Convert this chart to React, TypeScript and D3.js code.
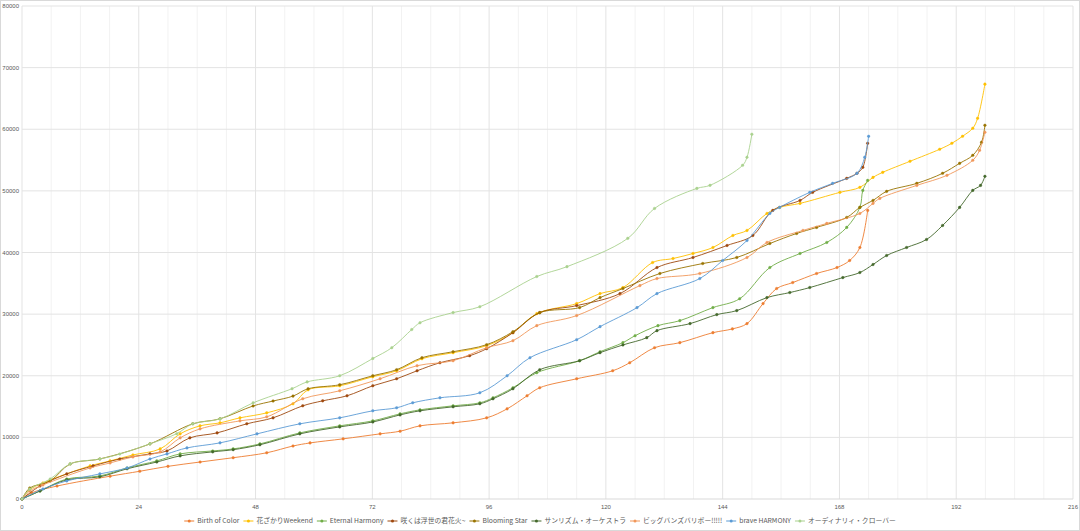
import { useRef, useEffect } from "react";
import * as d3 from "d3";

type Pt = [number, number];

// hours since start, points
const seriesNames: string[] = [
    "Birth of Color",
    "花ざかりWeekend",
    "Eternal Harmony",
    "咲くは浮世の君花火~",
    "Blooming Star",
    "サンリズム・オーケストラ",
    "ビッグバンズバリボー!!!!!",
    "brave HARMONY",
    "オーディナリィ・クローバー"
];

const birthOfColor: Pt[] = [
    [0, 0], [2, 1000], [7.2, 2100], [18.1, 3700], [24.2, 4500], [30, 5300], [36.6, 6000], [43.4, 6700],
    [50.3, 7500], [55.7, 8600], [59.2, 9100], [66, 9760], [73.6, 10570], [77.7, 11000],
    [81.8, 11870], [88.6, 12360], [95.5, 13170], [99.7, 14630], [103.8, 16750], [106.4, 18050],
    [114, 19510], [121.4, 20810], [124.9, 22110], [130, 24550], [135.2, 25370], [142, 26990],
    [146, 27600], [149, 28460], [152.3, 31710], [155.1, 34150], [158.4, 35120], [163.3, 36590],
    [167.5, 37560], [170.1, 38700], [172.2, 40810], [173.8, 46830]
];

const hanazakariWeekend: Pt[] = [
    [0, 0], [1.6, 1500], [4.3, 2600], [14, 5370], [18.1, 6180], [22.8, 7150], [28.4, 8130], [32.5, 10570],
    [36.6, 11870], [40.7, 12360], [44.8, 13170], [50.3, 13980], [55.7, 15450], [58.8, 17720],
    [65.3, 18370], [72.1, 19840], [77, 20810], [82.2, 22760], [88.6, 23740], [95.5, 24880],
    [100.9, 26990], [105.8, 30080], [114, 31710], [118.8, 33330], [123.5, 34310], [129.6, 38370],
    [133.8, 39020], [137.9, 39840], [142, 40810], [146.1, 42760], [149, 43580], [153.1, 46340],
    [155.7, 47320], [159.9, 47970], [168.1, 49760], [172.2, 50570], [174.9, 52190], [176.9, 53010],
    [182.5, 54800], [188.6, 56750], [191.1, 57720], [193.3, 58860], [195.4, 60160], [196.4, 61790],
    [197.9, 67320]
];

const eternalHarmony: Pt[] = [
    [0, 0], [3.7, 1300], [9.2, 3250], [16, 3740], [21.6, 5040], [27.7, 6180], [32.5, 7320], [39.2, 7800],
    [43.4, 8130], [48.9, 8940], [57.1, 10730], [65.3, 11870], [72.1, 12680], [77.7, 13820],
    [81.8, 14470], [88.6, 15120], [94.1, 15610], [96.8, 16420], [100.9, 18050], [105.8, 20490],
    [114.6, 22440], [118.8, 23900], [123.5, 25370], [126, 26500], [130.7, 28130], [135.2, 28940],
    [142, 31060], [147.5, 32500], [153.7, 37560], [159.9, 39840], [165.4, 41630], [169.5, 44070],
    [172.2, 47320], [172.8, 50080], [173.8, 51700]
];

const sakuwaUkiyo: Pt[] = [
    [0, 0], [3.7, 2110], [9.2, 4070], [14.6, 5370], [20.1, 6500], [26.3, 7320], [29.8, 7800], [34.5, 9920],
    [40.1, 10730], [46.2, 12200], [51.6, 13170], [57.7, 15120], [61.8, 15930], [66.8, 16750],
    [72.1, 18370], [77, 19510], [81.2, 20810], [85.9, 22110], [92, 23250], [95.5, 24390],
    [100.9, 26990], [106.4, 30240], [114, 31380], [122.9, 33330], [130.5, 37560], [137.9, 39190],
    [144.9, 41140], [150.2, 42760], [154.3, 46830], [159.9, 48450], [162.5, 49760], [169.5, 52030],
    [171.6, 52850], [172.8, 53820], [173.8, 57720]
];

const bloomingStar: Pt[] = [
    [0, 0], [1.6, 1790], [5.8, 2930], [9.9, 5690], [16, 6500], [26.3, 8940], [35.1, 12200], [40.7, 13010],
    [47.5, 15100], [51.6, 15900], [55.7, 16700], [58.8, 17890], [65.3, 18540], [72.1, 20000],
    [77, 20980], [82.2, 22930], [88.6, 23900], [95.5, 25040], [100.9, 27150], [106.4, 30240],
    [114.6, 31060], [118.8, 32680], [123.5, 34150], [131.1, 36590], [139.9, 38210], [146.9, 39190],
    [153.7, 41460], [159.2, 43090], [163.3, 44070], [169.5, 45690], [172.2, 47320], [174.9, 48450],
    [177.7, 49920], [183.9, 51220], [189.2, 52850], [192.7, 54470], [195.4, 55770], [197.2, 57890],
    [197.9, 60650]
];

const sunrhythmOrchestra: Pt[] = [
    [0, 0], [3.7, 1300], [9.2, 3100], [16, 3600], [21.6, 4900], [27.7, 6000], [32.5, 7000], [39.2, 7650],
    [43.4, 8000], [48.9, 8800], [57.1, 10570], [65.3, 11700], [72.1, 12500], [77.7, 13650],
    [81.8, 14310], [88.6, 14960], [94.1, 15450], [96.8, 16260], [100.9, 17890], [106.4, 20980],
    [114.6, 22440], [118.8, 23750], [123.5, 25000], [128.4, 26180], [130.5, 27320], [137.3, 28460],
    [142.8, 29920], [146.9, 30570], [153.1, 32680], [157.8, 33500], [161.9, 34310], [168.7, 35930],
    [172.2, 36750], [174.9, 38050], [177.7, 39510], [181.8, 40810], [185.9, 42110], [189.2, 44390],
    [192.7, 47320], [195.4, 50080], [197, 50890], [197.9, 52360]
];

const bigBangs: Pt[] = [
    [0, 0], [1.6, 1300], [4.3, 2280], [14, 5040], [18.1, 5850], [22.8, 6830], [28.4, 7640], [32.5, 9920],
    [36.6, 11380], [44.8, 12680], [50.3, 13330], [57.7, 16260], [65.3, 17560], [73.6, 19510],
    [81.2, 21630], [88.6, 22440], [95.5, 24550], [100.9, 25690], [105.8, 28130], [114, 29760],
    [127, 34630], [130.5, 35770], [139.3, 36590], [149, 39190], [153.1, 41630], [160.5, 43580],
    [165.4, 44720], [172.2, 46340], [174.9, 47970], [176.3, 48780], [183.9, 50890], [190.1, 52520],
    [195.4, 54960], [196.8, 56580], [197.9, 59510]
];

const braveHarmony: Pt[] = [
    [0, 0], [4.3, 1630], [9.2, 2930], [16, 4070], [21.6, 5040], [26.3, 6500], [29.8, 7320], [33.9, 8290],
    [40.7, 9110], [48.3, 10570], [57.1, 12200], [65.3, 13170], [72.1, 14310], [77, 14800],
    [80.3, 15610], [85.9, 16420], [94.1, 17240], [99.7, 20000], [104.4, 22930], [114, 25850],
    [118.8, 27970], [126.4, 31060], [130.5, 33330], [139.3, 35770], [144, 38700], [149, 41950],
    [153.7, 46340], [155.7, 47320], [161.9, 49760], [166.6, 51220], [171.6, 52850], [173.2, 55450],
    [174, 58860]
];

const ordinaryClover: Pt[] = [
    [0, 0], [1.6, 1600], [5.8, 3250], [9.9, 5700], [16, 6500], [20.1, 7300], [26.3, 8950], [31.8, 10600],
    [35.1, 12200], [40.7, 13000], [47.5, 15600], [55.5, 17900], [58.6, 19000], [65.3, 20000],
    [72.1, 22800], [76, 24550], [80.1, 27500], [81.8, 28600], [88.6, 30250], [94.1, 31200],
    [105.8, 36100], [112, 37700], [124.5, 42300], [130, 47150], [138.7, 50400], [141.4, 50900],
    [148.1, 54150], [149, 55450], [150, 59200]
];

const allSeries: Pt[][] = [
    birthOfColor, hanazakariWeekend, eternalHarmony, sakuwaUkiyo, bloomingStar,
    sunrhythmOrchestra, bigBangs, braveHarmony, ordinaryClover
];

const xTicks = [0, 24, 48, 72, 96, 120, 144, 168, 192, 216];
const yTicks = [0, 10000, 20000, 30000, 40000, 50000, 60000, 70000, 80000];

const colors = [
    "#ED7D31", "#FFC000", "#70AD47", "#9E480E", "#997300",
    "#43682B", "#F1975A", "#5B9BD5", "#A9D18E"
];

const W = 1080;
const H = 531;
const margin = { left: 22, right: 7, top: 6, bottom: 32 };

export default function App() {
    const svgRef = useRef<SVGSVGElement>(null);

    useEffect(() => {
        const svg = d3.select<SVGSVGElement, unknown>(svgRef.current as SVGSVGElement);
        svg.selectAll("*").remove();

        svg.append("rect")
            .attr("x", 0.5).attr("y", 0.5)
            .attr("width", W - 1).attr("height", H - 1)
            .attr("fill", "#fff")
            .attr("stroke", "#d9d9d9");

        const xScale = d3.scaleLinear().domain([0, 216]).range([margin.left, W - margin.right]);
        const yScale = d3.scaleLinear().domain([0, 80000]).range([H - margin.bottom, margin.top]);

        // minor vertical grid every 6h
        const grid = svg.append("g");
        grid.selectAll("line.minor")
            .data(d3.range(0, 217, 6).filter(v => v % 24 !== 0))
            .join("line")
            .attr("class", "minor")
            .attr("x1", d => xScale(d)).attr("x2", d => xScale(d))
            .attr("y1", yScale(0)).attr("y2", yScale(80000))
            .attr("stroke", "#f2f2f2");

        grid.selectAll("line.vmajor")
            .data(xTicks.slice(1))
            .join("line")
            .attr("class", "vmajor")
            .attr("x1", d => xScale(d)).attr("x2", d => xScale(d))
            .attr("y1", yScale(0)).attr("y2", yScale(80000))
            .attr("stroke", "#e3e3e3");

        grid.selectAll("line.hmajor")
            .data(yTicks)
            .join("line")
            .attr("class", "hmajor")
            .attr("x1", xScale(0)).attr("x2", xScale(216))
            .attr("y1", d => yScale(d)).attr("y2", d => yScale(d))
            .attr("stroke", d => d === 0 ? "#d9d9d9" : "#e3e3e3");

        grid.append("line")
            .attr("x1", xScale(0)).attr("x2", xScale(0))
            .attr("y1", yScale(0)).attr("y2", yScale(80000))
            .attr("stroke", "#e3e3e3");

        // axis labels
        const tickFont = "'Liberation Sans', Arial, sans-serif";
        svg.append("g")
            .selectAll("text")
            .data(yTicks)
            .join("text")
            .attr("x", margin.left - 3)
            .attr("y", d => yScale(d) + 2)
            .attr("text-anchor", "end")
            .attr("font-family", tickFont)
            .attr("font-size", 6)
            .attr("fill", "#595959")
            .text(d => String(d));

        svg.append("g")
            .selectAll("text")
            .data(xTicks)
            .join("text")
            .attr("x", d => xScale(d))
            .attr("y", yScale(0) + 10)
            .attr("text-anchor", "middle")
            .attr("font-family", tickFont)
            .attr("font-size", 6)
            .attr("fill", "#595959")
            .text(d => String(d));

        // lines
        const line = d3.line<Pt>()
            .x(d => xScale(d[0]))
            .y(d => yScale(d[1]))
            .curve(d3.curveCatmullRom.alpha(0.5));

        const plot = svg.append("g");
        allSeries.forEach((data, i) => {
            const g = plot.append("g");
            g.append("path")
                .datum(data)
                .attr("d", line)
                .attr("fill", "none")
                .attr("stroke", colors[i])
                .attr("stroke-width", 0.9);
            g.selectAll("circle")
                .data(data)
                .join("circle")
                .attr("cx", d => xScale(d[0]))
                .attr("cy", d => yScale(d[1]))
                .attr("r", 1.3)
                .attr("fill", colors[i])
                .attr("stroke", colors[i])
                .attr("stroke-width", 0.4);
        });

        // legend
        const legend = svg.append("g");
        const legendFont = "'Noto Sans CJK JP', 'Noto Sans', sans-serif";
        const items: { g: d3.Selection<SVGGElement, unknown, null, undefined>, w: number }[] = [];
        seriesNames.forEach((name, i) => {
            const g = legend.append("g");
            g.append("line")
                .attr("x1", 0).attr("x2", 10)
                .attr("y1", 0).attr("y2", 0)
                .attr("stroke", colors[i])
                .attr("stroke-width", 1);
            g.append("circle")
                .attr("cx", 5).attr("cy", 0).attr("r", 1.5)
                .attr("fill", colors[i]);
            const t = g.append("text")
                .attr("x", 13)
                .attr("y", 2.4)
                .attr("font-family", legendFont)
                .attr("font-size", 6.8)
                .attr("fill", "#595959")
                .text(name);
            const tw = (t.node() as SVGTextElement).getComputedTextLength();
            items.push({ g, w: 13 + tw + 4 });
        });
        const total = d3.sum(items, d => d.w);
        let cursor = 542 - total / 2;
        items.forEach(it => {
            it.g.attr("transform", `translate(${cursor},${H - 10})`);
            cursor += it.w;
        });
    }, []);

    return <svg ref={svgRef} width={W} height={H} style={{ position: "absolute", left: 0, top: 0, display: "block" }} />;
}
